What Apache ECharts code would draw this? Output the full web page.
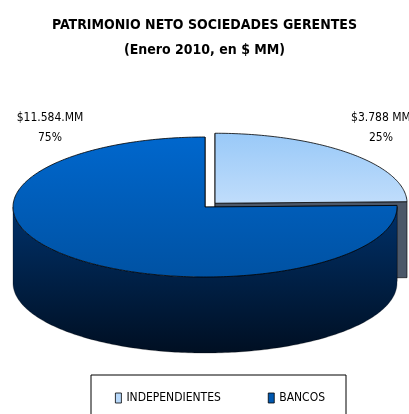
<!DOCTYPE html>
<html>
<head>
<meta charset="utf-8">
<script src="https://cdn.jsdelivr.net/npm/echarts@6/dist/echarts.min.js"></script>
<style>
  html, body { margin: 0; padding: 0; background: #fff; }
  #chart { width: 409px; height: 414px; }
</style>
</head>
<body>
<div id="chart"></div>
<script>
  // data
  var categories = ['INDEPENDIENTES', 'BANCOS'];
  var values = [3788, 11584];
  var amountLabels = ['$3.788 MM', '$11.584.MM'];

  var FONT = '"Liberation Sans Narrow", "DejaVu Sans Condensed", "Liberation Sans", sans-serif';

  // 3d pie layout
  var cx = 205, cy = 207, rx = 192, ry = 70, depth = 76;
  var explodeBy = [0.075, 0];
  var labelPos = [[381, 128], [50, 128]];
  var topColors = [['#99c9f8', '#c0ddfb'], ['#0067cd', '#0052a3']];
  var wallColors = [['#4f6078', '#2c3a4c'], ['#00316a', '#000f22']];
  var cutColor = '#4c5869';
  var legendColors = ['#b8d9fb', '#0058b0'];

  var total = values.reduce(function (a, b) { return a + b; }, 0);
  var cum = [];
  values.reduce(function (acc, v, i) { cum[i] = acc; return acc + v; }, 0);

  function pt(ox, oy, deg, dy) {
    var t = deg * Math.PI / 180;
    return [ox + rx * Math.cos(t), oy - ry * Math.sin(t) + (dy || 0)];
  }

  function arc(ox, oy, from, to, dy) {
    var pts = [];
    var n = Math.max(2, Math.ceil(Math.abs(to - from)));
    for (var k = 0; k <= n; k++) {
      pts.push(pt(ox, oy, from + (to - from) * k / n, dy));
    }
    return pts;
  }

  function vgrad(c) {
    return {
      type: 'linear', x: 0, y: 0, x2: 0, y2: 1,
      colorStops: [{ offset: 0, color: c[0] }, { offset: 1, color: c[1] }]
    };
  }

  function makeRender(idx) {
    return function (params, api) {
      var value = api.value(0);
      var start = 90 - 360 * cum[idx] / total;
      var end = start - 360 * value / total;
      var mid = (start + end) / 2 * Math.PI / 180;
      var ox = cx + explodeBy[idx] * rx * Math.cos(mid);
      var oy = cy - explodeBy[idx] * ry * Math.sin(mid);
      var children = [];

      // cut faces
      [start, end].forEach(function (a) {
        var p = pt(ox, oy, a);
        children.push({
          type: 'polygon',
          shape: { points: [[ox, oy], p, [p[0], p[1] + depth], [ox, oy + depth]] },
          style: { fill: cutColor, stroke: '#000', lineWidth: 0.6 }
        });
      });

      // front wall
      for (var k = -2; k <= 1; k++) {
        var a0 = Math.max(end, 180 + 360 * k);
        var a1 = Math.min(start, 360 + 360 * k);
        if (a1 - a0 > 0.01) {
          var upper = arc(ox, oy, a0, a1, 0);
          var lower = arc(ox, oy, a1, a0, depth);
          children.push({
            type: 'polygon',
            shape: { points: upper.concat(lower) },
            style: { fill: vgrad(wallColors[idx]), stroke: 'rgba(0,0,0,0.45)', lineWidth: 0.6 }
          });
        }
      }

      // top face
      children.push({
        type: 'polygon',
        shape: { points: [[ox, oy]].concat(arc(ox, oy, end, start, 0)) },
        style: { fill: vgrad(topColors[idx]), stroke: '#000', lineWidth: 0.8 }
      });

      // label
      children.push({
        type: 'text',
        x: labelPos[idx][0],
        y: labelPos[idx][1],
        style: {
          text: amountLabels[idx] + '\n' + Math.round(100 * value / total) + '%',
          fill: '#000',
          font: '12px ' + FONT,
          align: 'center',
          verticalAlign: 'middle',
          lineHeight: 20
        }
      });

      return { type: 'group', children: children };
    };
  }

  var chart = echarts.init(document.getElementById('chart'), null, { renderer: 'canvas' });

  chart.setOption({
    animation: false,
    backgroundColor: '#fff',
    title: {
      text: 'PATRIMONIO NETO SOCIEDADES GERENTES\n(Enero 2010, en $ MM)',
      left: 'center',
      top: 8,
      textStyle: {
        fontFamily: FONT,
        fontWeight: 'bold',
        fontSize: 14,
        lineHeight: 25,
        color: '#000'
      }
    },
    legend: {
      left: 91,
      top: 375,
      orient: 'horizontal',
      padding: [17, 21, 30, 24],
      itemGap: 47,
      itemWidth: 6,
      itemHeight: 10,
      borderColor: '#000',
      borderWidth: 1,
      borderRadius: 0,
      selectedMode: false,
      textStyle: { fontFamily: FONT, fontSize: 12, color: '#000' },
      data: categories.map(function (name, i) {
        return {
          name: name,
          icon: 'rect',
          itemStyle: { color: legendColors[i], borderColor: '#000', borderWidth: 0.8 }
        };
      })
    },
    series: categories.map(function (name, i) {
      return {
        type: 'custom',
        name: name,
        coordinateSystem: 'none',
        itemStyle: { color: legendColors[i] },
        data: [[values[i]]],
        renderItem: makeRender(i)
      };
    })
  });
</script>
</body>
</html>
